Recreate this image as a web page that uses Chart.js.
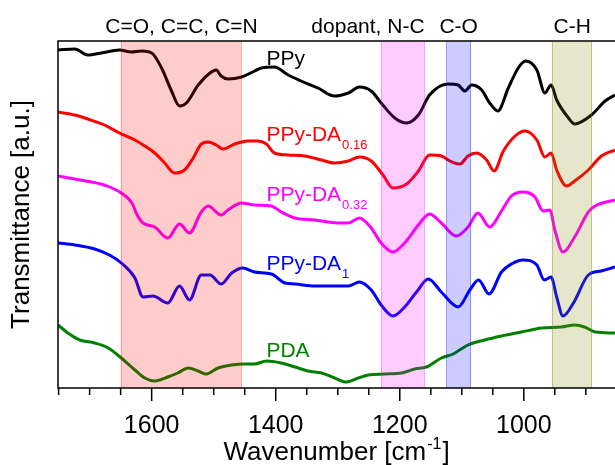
<!DOCTYPE html>
<html>
<head>
<meta charset="utf-8">
<script src="https://cdn.jsdelivr.net/npm/chart.js@4.4.1/dist/chart.umd.min.js"></script>
<style>
  html, body { margin: 0; padding: 0; background: #fff; }
  #wrap { width: 615px; height: 465px; }
</style>
</head>
<body>
<div id="wrap"><canvas id="c" width="615" height="465"></canvas></div>
<script>
// spectra (wavenumber in cm-1, transmittance in a.u.)
const wnPPy = [1751,1724,1703,1681,1652,1633,1617,1600,1584,1568,1555,1544,1525,1506,1496,1488,1477,1455,1434,1423,1402,1380,1359,1332,1305,1283,1265,1246,1230,1208,1189,1170,1152,1122,1106,1095,1084,1068,1055,1042,1025,1009,997,979,966,956,947,928,918,891,869,853];
const tPPy = [338,339,333,335,338,336,337,335,320,297,282,285,303,315,318,312,309,311,317,320,321,313,307,300,292,295,301,297,285,270,265,273,293,304,303,297,303,298,285,277,300,320,327,318,295,303,288,270,264,273,287,293];

const wnDA016 = [1751,1724,1703,1676,1652,1627,1611,1595,1579,1563,1547,1533,1520,1509,1496,1485,1466,1445,1429,1415,1402,1380,1353,1326,1305,1283,1265,1246,1227,1211,1189,1170,1152,1133,1119,1103,1090,1076,1060,1048,1033,1014,998,979,966,956,947,931,918,896,875,853];
const tDA016 = [276,273,269,263,255,248,242,235,225,215,218,230,244,246,243,239,244,247,247,244,235,233,232,228,225,227,231,227,213,200,204,217,233,232,227,224,232,235,228,217,237,252,257,248,231,235,218,202,207,218,232,238];

const wnDA032 = [1751,1724,1697,1676,1649,1630,1625,1614,1595,1574,1555,1539,1520,1509,1488,1477,1455,1434,1407,1391,1369,1337,1300,1283,1265,1246,1230,1211,1192,1170,1152,1133,1109,1090,1074,1055,1036,1020,1001,982,969,958,950,937,918,896,885,853];
const tDA032 = [212,209,206,203,195,183,175,165,161,150,164,155,176,182,173,178,185,183,182,176,170,168,165,165,170,160,145,136,145,163,174,165,152,161,175,161,177,192,196,191,177,178,158,136,151,176,182,188];

const wnDA1 = [1751,1724,1692,1668,1649,1627,1614,1598,1574,1555,1539,1520,1506,1488,1471,1453,1434,1407,1385,1369,1337,1300,1283,1265,1246,1230,1211,1192,1173,1154,1133,1106,1087,1073,1056,1036,1020,1001,979,967,956,947,937,920,896,875,853];
const tDA1 = [145,143,139,133,125,110,91,92,85,102,88,113,113,104,115,120,116,114,105,104,102,102,102,106,98,83,72,81,96,109,96,81,98,108,94,116,124,128,123,108,111,91,72,85,113,117,121];

const wnPDA = [1751,1735,1716,1692,1670,1649,1627,1611,1595,1574,1558,1541,1525,1512,1493,1471,1450,1434,1415,1391,1369,1348,1326,1305,1286,1267,1251,1224,1197,1176,1157,1133,1114,1090,1063,1036,1004,971,939,918,902,885,853];
const tPDA = [63,55,48,45,40,30,18,10,7,11,15,20,17,14,20,23,24,24,27,25,21,17,15,10,6,10,13,14,15,19,21,30,34,43,48,52,56,60,61,63,61,56,55];

const seriesNames = ['PPy', 'PPy-DA', 'PPy-DA', 'PPy-DA', 'PDA'];
const seriesSubs = ['', '0.16', '0.32', '1', ''];

// assignment bands (cm-1)
const bandNames = ['C=O, C=C, C=N', 'dopant, N-C', 'C-O', 'C-H'];
const bandFrom = [1650, 1230, 1125, 955];
const bandTo = [1455, 1160, 1085, 890];

const xTicks = [1600, 1400, 1200, 1000];

const FONT = '"Liberation Sans", Arial, sans-serif';
const colors = ['#000000', '#ff0000', '#ff00ff', '#0000ff', '#008000'];
const bandFill = ['rgba(255,0,0,0.2)', 'rgba(255,0,255,0.2)', 'rgba(0,0,255,0.2)', 'rgba(128,128,0,0.2)'];
const bandEdge = ['rgba(255,0,0,0.25)', 'rgba(255,0,255,0.3)', 'rgba(0,0,255,0.3)', 'rgba(128,128,0,0.35)'];

const pairs = (xs, ys) => xs.map((x, i) => ({ x: x, y: ys[i] }));
const spectra = [[wnPPy, tPPy], [wnDA016, tDA016], [wnDA032, tDA032], [wnDA1, tDA1], [wnPDA, tPDA]];

// where the series names sit (cm-1, a.u.)
const labelPos = [[1415, 323], [1415, 247], [1415, 187], [1415, 118], [1415, 31]];
// label anchor and alignment for the band names
const bandLabelX = [1552, 1160, 1105, 922];
const bandLabelAlign = ['center', 'right', 'center', 'center'];

function richText(ctx, x, y, base, sub, size, color) {
  ctx.save();
  ctx.fillStyle = color;
  ctx.textBaseline = 'alphabetic';
  ctx.textAlign = 'left';
  ctx.font = size + 'px ' + FONT;
  ctx.fillText(base, x, y);
  const w = ctx.measureText(base).width;
  if (sub) {
    ctx.font = Math.round(size * 0.62) + 'px ' + FONT;
    ctx.fillText(sub, x + w + 1, y + size * 0.36);
  }
  ctx.restore();
}

const decor = {
  id: 'decor',
  afterDatasetsDraw(chart) {
    const { ctx, chartArea: a, scales: { x } } = chart;
    ctx.save();
    ctx.beginPath();
    ctx.rect(a.left, a.top, a.right - a.left, a.bottom - a.top);
    ctx.clip();
    bandFrom.forEach((f, i) => {
      const x0 = x.getPixelForValue(f), x1 = x.getPixelForValue(bandTo[i]);
      ctx.fillStyle = bandFill[i];
      ctx.fillRect(x0, a.top, x1 - x0, a.bottom - a.top);
      ctx.strokeStyle = bandEdge[i];
      ctx.lineWidth = 1;
      ctx.beginPath();
      ctx.moveTo(Math.round(x0) + 0.5, a.top); ctx.lineTo(Math.round(x0) + 0.5, a.bottom);
      ctx.moveTo(Math.round(x1) - 0.5, a.top); ctx.lineTo(Math.round(x1) - 0.5, a.bottom);
      ctx.stroke();
    });
    ctx.restore();
  },
  afterDraw(chart) {
    const { ctx, chartArea: a, scales: { x, y } } = chart;
    ctx.save();
    // frame
    ctx.strokeStyle = '#000';
    ctx.lineWidth = 1.5;
    ctx.beginPath();
    ctx.moveTo(a.right + 2, a.top); ctx.lineTo(a.left, a.top);
    ctx.lineTo(a.left, a.bottom); ctx.lineTo(a.right + 2, a.bottom);
    ctx.stroke();
    // ticks, major every 200 and minor every 50
    ctx.beginPath();
    for (let v = Math.ceil(x.min / 50) * 50; v <= x.max; v += 50) {
      const px = x.getPixelForValue(v);
      ctx.moveTo(px, a.bottom);
      ctx.lineTo(px, a.bottom + (v % 200 === 0 ? 13 : 7));
    }
    ctx.stroke();
    // tick labels
    ctx.fillStyle = '#000';
    ctx.font = '25px ' + FONT;
    ctx.textAlign = 'center';
    ctx.textBaseline = 'alphabetic';
    xTicks.forEach(v => ctx.fillText(String(v), x.getPixelForValue(v), 433));
    ctx.restore();

    // band names above the frame
    ctx.save();
    ctx.fillStyle = '#000';
    ctx.font = '21px ' + FONT;
    ctx.textBaseline = 'alphabetic';
    bandNames.forEach((t, i) => {
      ctx.textAlign = bandLabelAlign[i];
      ctx.fillText(t, x.getPixelForValue(bandLabelX[i]), 33);
    });
    ctx.restore();

    // series names
    seriesNames.forEach((n, i) => {
      richText(ctx, x.getPixelForValue(labelPos[i][0]), y.getPixelForValue(labelPos[i][1]),
        n, seriesSubs[i], 21, colors[i]);
    });

    // x axis title with superscript
    ctx.save();
    ctx.font = '26px ' + FONT;
    const t1 = 'Wavenumber [cm';
    const w1 = ctx.measureText(t1).width;
    ctx.font = '16px ' + FONT;
    const ws = ctx.measureText('-1').width;
    ctx.font = '26px ' + FONT;
    const w2 = ctx.measureText(']').width;
    const total = w1 + ws + 2 + w2;
    const sx = (a.left + a.right) / 2 - total / 2;
    const by = 460;
    ctx.fillStyle = '#000';
    ctx.textBaseline = 'alphabetic';
    ctx.textAlign = 'left';
    ctx.fillText(t1, sx, by);
    ctx.font = '16px ' + FONT;
    ctx.fillText('-1', sx + w1 + 1, by - 11);
    ctx.font = '26px ' + FONT;
    ctx.fillText(']', sx + w1 + ws + 2, by);
    ctx.restore();
  }
};

new Chart(document.getElementById('c').getContext('2d'), {
  type: 'line',
  data: {
    datasets: spectra.map((s, i) => ({
      label: seriesNames[i] + seriesSubs[i],
      data: pairs(s[0], s[1]),
      borderColor: colors[i],
      borderWidth: 3,
      pointRadius: 0,
      fill: false,
      cubicInterpolationMode: 'monotone',
      borderJoinStyle: 'round'
    }))
  },
  options: {
    responsive: false,
    animation: false,
    devicePixelRatio: 1,
    layout: { padding: { top: 41, left: 0, right: 0, bottom: 0 } },
    plugins: {
      legend: { display: false },
      tooltip: { enabled: false }
    },
    scales: {
      x: {
        type: 'linear',
        reverse: true,
        min: 853,
        max: 1751,
        grid: { display: false },
        border: { display: false },
        afterBuildTicks: scale => { scale.ticks = xTicks.map(v => ({ value: v })); },
        afterFit: scale => { scale.height = 77; },
        ticks: { display: false }
      },
      y: {
        min: 0,
        max: 347,
        grid: { display: false },
        border: { display: false },
        ticks: { display: false },
        afterFit: scale => { scale.width = 58; },
        title: {
          display: true,
          text: 'Transmittance [a.u.]',
          color: '#000',
          font: { family: FONT, size: 26 },
          padding: { top: 6, bottom: 0 }
        }
      }
    }
  },
  plugins: [decor]
});
</script>
</body>
</html>
